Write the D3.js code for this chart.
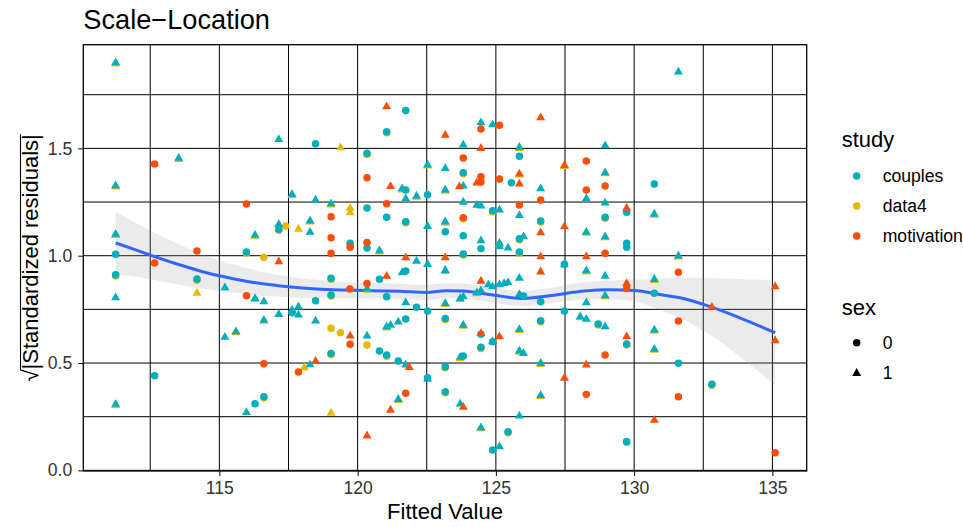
<!DOCTYPE html>
<html>
<head>
<meta charset="utf-8">
<script src="https://cdn.jsdelivr.net/npm/d3@7"></script>
<style>
  body { margin: 0; background: #fff; }
  text { font-family: "Liberation Sans", Arial, Helvetica, sans-serif; }
</style>
</head>
<body>
<svg id="chart" width="963" height="527"></svg>
<script>
// ── Data ──────────────────────────────────────────────────────────

const studies     = ['couples', 'data4', 'motivation'];
const studyColors = ['#00AFBB', '#E7B800', '#FC4E07'];
const sexLevels   = ['0', '1'];

const xTicks = [115, 120, 125, 130, 135];
const yTicks = [0.0, 0.5, 1.0, 1.5];

// [fitted value, sqrt|standardized residual|]
const couplesSex0 = [
  [111.25,1.007],[111.25,0.911],[112.66,0.441],[114.19,0.891],[115.98,1.017],[116.29,0.310],
  [116.61,0.343],[117.63,0.734],[118.48,0.790],[117.15,1.123],[118.48,1.522],[119.04,0.895],
  [119.04,0.817],[119.04,0.545],[120.34,1.477],[120.34,1.222],[120.34,1.036],[119.73,1.058],
  [121.05,1.578],[121.74,1.676],[121.74,1.306],[121.05,1.179],[121.74,1.158],[122.53,1.284],
  [123.17,1.112],[123.82,1.387],[123.82,1.093],[123.82,1.008],[124.88,1.210],[124.46,1.033],
  [125.56,1.340],[125.85,1.463],[126.62,1.162],[125.85,1.079],[125.85,1.017],[128.95,1.179],
  [129.73,1.202],[129.73,1.058],[129.73,1.039],[130.73,1.334],[127.48,0.960],[130.73,0.825],
  [127.48,0.742],[120.79,0.890],[121.74,0.929],[121.05,0.809],[122.13,0.760],[122.53,0.742],
  [123.17,0.708],[126.00,0.812],[126.62,0.786],[121.74,0.705],[120.79,0.556],[121.05,0.537],
  [121.47,0.509],[122.53,0.431],[123.17,0.483],[123.17,0.366],[123.82,0.533],[124.46,0.573],
  [124.88,0.599],[124.46,0.634],[126.62,0.697],[128.70,0.682],[129.73,0.589],[131.60,0.499],
  [132.81,0.401],[129.73,0.135],[125.44,0.180],[124.88,0.095]
];
const couplesSex1 = [
  [111.25,1.899],[111.25,1.326],[111.25,1.100],[111.25,0.804],[111.25,0.308],[113.53,1.454],
  [115.20,0.851],[115.20,0.620],[115.60,0.646],[115.98,0.270],[116.29,0.801],[116.61,0.786],
  [116.61,0.700],[117.15,0.727],[117.63,0.747],[117.86,0.762],[117.86,0.724],[118.48,0.696],
  [118.28,0.492],[117.15,1.542],[117.63,1.286],[118.48,1.260],[117.15,1.146],[118.28,1.162],
  [118.28,1.110],[116.29,1.096],[119.04,1.242],[120.79,1.023],[120.34,0.845],[121.61,0.921],
  [122.13,0.975],[122.53,0.960],[123.17,0.932],[121.61,1.312],[122.13,1.278],[121.74,1.266],
  [122.53,1.423],[123.17,1.407],[123.17,1.306],[122.53,1.137],[123.17,1.158],[123.82,1.516],
  [124.46,1.620],[124.88,1.610],[123.82,1.325],[123.82,1.250],[124.31,1.235],[124.46,1.232],
  [124.46,1.070],[125.85,1.505],[128.95,1.513],[128.95,1.387],[126.62,1.312],[128.27,1.266],
  [128.95,1.246],[130.73,1.194],[125.13,1.213],[125.85,1.188],[128.27,1.110],[128.95,1.089],
  [126.00,1.089],[125.13,1.058],[125.13,1.042],[125.44,1.036],[131.60,0.999],[131.60,1.856],
  [127.48,0.958],[128.27,0.930],[128.95,0.905],[130.73,0.890],[128.95,0.814],[128.27,0.781],
  [128.05,0.716],[128.27,0.704],[128.95,0.669],[130.73,0.654],[130.73,0.565],[124.31,0.828],
  [124.46,0.837],[124.73,0.865],[124.88,0.856],[125.13,0.865],[125.30,0.871],[125.44,0.876],
  [125.85,0.895],[125.85,0.820],[121.74,0.781],[123.17,0.778],[123.71,0.801],[123.82,0.809],
  [123.82,0.677],[121.05,0.669],[121.19,0.676],[121.47,0.692],[120.34,0.626],[121.74,0.491],
  [122.53,0.425],[123.71,0.527],[124.88,0.599],[125.85,0.657],[125.85,0.556],[126.00,0.545],
  [126.62,0.499],[126.62,0.349],[125.85,0.254],[125.13,0.110],[124.46,0.199],[123.71,0.309],
  [121.47,0.331]
];
const data4Sex0 = [
  [116.61,0.993],[117.40,1.138],[119.04,0.662],[119.38,0.641],[120.34,0.584],
  [111.25,0.906],[114.19,0.886],[115.98,1.012],[116.61,0.338],[117.15,1.118],[119.04,0.890],
  [119.04,0.812],[119.04,0.540],[120.34,1.472],[119.73,1.053],[121.05,1.573],[121.74,1.153],
  [123.82,1.382],[123.82,1.003],[124.88,1.205],[126.62,1.157],[125.85,1.074],[125.85,1.012],
  [128.95,1.174],[123.17,0.703],[121.05,0.532],[123.17,0.478],[123.17,0.361],[124.46,0.568],
  [126.62,0.692],[128.70,0.677],[129.73,0.584],[132.81,0.396],[129.73,0.130],[125.44,0.175],
  [123.82,1.172]
];
const data4Sex1 = [
  [114.19,0.825],[117.86,1.124],[119.38,1.503],[119.73,1.221],[119.73,1.200],[118.07,0.478],
  [119.04,0.266],
  [111.25,1.894],[111.25,1.321],[111.25,1.095],[111.25,0.303],[113.53,1.449],[115.60,0.641],
  [116.29,0.796],[116.61,0.695],[117.63,0.742],[117.63,1.281],[118.28,1.157],[116.29,1.091],
  [119.04,1.237],[120.79,1.018],[120.34,0.840],[123.17,0.927],[121.61,1.307],[122.13,1.273],
  [122.53,1.418],[123.17,1.301],[123.17,1.153],[125.85,1.500],[128.95,1.382],[130.73,1.189],
  [128.27,1.105],[128.95,1.084],[125.13,1.053],[131.60,0.994],[128.27,0.925],[130.73,0.885],
  [128.95,0.809],[128.05,0.711],[130.73,0.649],[130.73,0.560],[124.31,0.823],[123.17,0.773],
  [123.71,0.796],[123.82,0.672],[121.05,0.664],[123.71,0.522],[125.85,0.652],[125.85,0.551],
  [126.62,0.494],[126.62,0.344],[124.46,0.194],[121.47,0.326],[127.48,1.416],[125.85,1.376]
];
const motivationSex0 = [
  [112.66,1.427],[112.66,0.966],[114.19,1.022],[115.98,1.241],[115.98,0.814],[116.61,0.497],
  [117.86,0.458],[119.04,1.182],[119.04,1.011],[119.04,1.084],[119.73,1.039],[120.34,1.061],
  [120.34,1.363],[121.05,1.242],[119.72,0.845],[120.34,0.871],[119.73,0.587],[121.74,0.359],
  [123.82,1.455],[124.46,1.590],[125.13,1.608],[124.46,1.368],[124.46,1.343],[123.82,1.177],
  [125.13,1.357],[128.27,1.441],[128.95,1.325],[128.27,1.306],[126.62,1.260],[125.85,1.236],
  [128.95,1.011],[131.60,0.923],[129.73,0.848],[131.60,0.696],[128.95,0.537],[128.27,0.354],
  [131.60,0.343],[135.10,0.082]
];
const motivationSex1 = [
  [117.15,0.972],[118.48,0.509],[121.05,1.694],[123.17,1.562],[124.46,1.500],[121.19,1.323],
  [123.68,1.322],[124.31,1.339],[126.62,1.643],[127.48,1.421],[125.85,1.381],[125.85,1.334],
  [129.73,1.221],[127.48,1.135],[126.62,1.107],[121.74,0.991],[123.17,0.991],[126.62,0.995],
  [128.27,0.995],[126.62,0.925],[121.05,0.905],[124.46,0.882],[129.73,0.871],[132.81,0.760],
  [135.10,0.856],[135.10,0.604],[119.73,0.626],[121.87,0.480],[129.73,0.623],[128.27,0.491],
  [127.48,0.430],[123.82,0.294],[121.19,0.281],[120.34,0.161],[130.73,0.234],[124.46,0.638],
  [125.13,0.623]
];

// loess smooth: fit and half-width of the confidence band
const smoothX   = [111.25,111.8,112.5,113.5,114.5,115.5,116.5,117.5,118.5,119.5,120.5,121.5,122.5,
                   123.2,123.8,124.9,125.9,127.0,128.2,129.1,130.0,131.0,131.7,132.7,133.8,135.1];
const smoothFit = [1.059,1.035,1.003,0.960,0.922,0.893,0.870,0.855,0.845,0.840,0.837,0.834,0.829,
                   0.837,0.835,0.817,0.801,0.815,0.836,0.841,0.838,0.818,0.803,0.765,0.712,0.641];
const smoothSe  = [0.146,0.130,0.113,0.094,0.078,0.066,0.056,0.048,0.043,0.038,0.036,0.035,0.035,
                   0.035,0.035,0.035,0.035,0.036,0.040,0.044,0.050,0.075,0.095,0.130,0.180,0.245];

// ── Layout ────────────────────────────────────────────────────────

const panel = { left: 83.3, top: 44.7, right: 806.7, bottom: 471 };

const x = d3.scaleLinear().domain([110.08, 136.24]).range([panel.left, panel.right]);
const y = d3.scaleLinear().domain([-0.003, 1.983]).range([panel.bottom, panel.top]);

const colorOf = d3.scaleOrdinal().domain(studies).range(studyColors);
const circle   = d3.symbol().type(d3.symbolCircle).size(44)();
const triangle = d3.symbol().type(d3.symbolTriangle).size(35)();
const shapeOf  = d3.scaleOrdinal().domain(sexLevels).range([circle, triangle]);

const svg = d3.select('#chart');

// ── Grid ──────────────────────────────────────────────────────────

const grid = svg.append('g');
const xMinor = d3.range(112.5, 136, 5);
const yMinor = d3.range(0.25, 1.9, 0.5);

grid.selectAll('.vx').data(xTicks.concat(xMinor)).join('line')
  .attr('x1', d => x(d)).attr('x2', d => x(d))
  .attr('y1', panel.top).attr('y2', panel.bottom)
  .attr('stroke', '#000').attr('stroke-width', 1);

grid.selectAll('.hy').data(yTicks.concat(yMinor)).join('line')
  .attr('y1', d => y(d)).attr('y2', d => y(d))
  .attr('x1', panel.left).attr('x2', panel.right)
  .attr('stroke', '#000').attr('stroke-width', 1);

// ── Smooth ────────────────────────────────────────────────────────

const smooth = smoothX.map((v, i) => ({ x: v, fit: smoothFit[i], se: smoothSe[i] }));

svg.append('path')
  .datum(smooth)
  .attr('fill', '#999999').attr('fill-opacity', 0.2)
  .attr('d', d3.area().curve(d3.curveMonotoneX)
    .x(d => x(d.x)).y0(d => y(d.fit - d.se)).y1(d => y(d.fit + d.se)));

svg.append('path')
  .datum(smooth)
  .attr('fill', 'none').attr('stroke', '#3366FF').attr('stroke-width', 3)
  .attr('d', d3.line().curve(d3.curveMonotoneX).x(d => x(d.x)).y(d => y(d.fit)));

// ── Points ────────────────────────────────────────────────────────

const groups = [
  ['data4', '0', data4Sex0], ['data4', '1', data4Sex1],
  ['couples', '0', couplesSex0], ['couples', '1', couplesSex1],
  ['motivation', '0', motivationSex0], ['motivation', '1', motivationSex1],
];

const pts = svg.append('g');
groups.forEach(([study, sex, rows]) => {
  pts.append('g').selectAll('path').data(rows).join('path')
    .attr('d', shapeOf(sex))
    .attr('transform', d => `translate(${x(d[0])},${y(d[1])})`)
    .attr('fill', colorOf(study));
});

// ── Panel border + axes ───────────────────────────────────────────

svg.append('rect')
  .attr('x', panel.left).attr('y', panel.top)
  .attr('width', panel.right - panel.left).attr('height', panel.bottom - panel.top)
  .attr('fill', 'none').attr('stroke', '#000').attr('stroke-width', 1.3);

const xAxis = svg.append('g')
  .attr('transform', `translate(0,${panel.bottom})`)
  .call(d3.axisBottom(x).tickValues(xTicks).tickSize(5).tickPadding(6).tickFormat(d3.format('d')));
const yAxis = svg.append('g')
  .attr('transform', `translate(${panel.left},0)`)
  .call(d3.axisLeft(y).tickValues(yTicks).tickSize(5).tickPadding(6).tickFormat(d3.format('.1f')));

[xAxis, yAxis].forEach(a => {
  a.select('.domain').remove();
  a.selectAll('.tick line').attr('stroke', '#000').attr('stroke-width', 1);
  a.selectAll('.tick text')
    .attr('fill', '#333').attr('font-size', 17.6)
    .attr('font-family', '"Liberation Sans", Arial, sans-serif');
});

// ── Titles ────────────────────────────────────────────────────────

svg.append('text')
  .attr('x', panel.left).attr('y', 28.5)
  .attr('font-size', 27.2).attr('fill', '#000')
  .text('Scale\u2212Location');

svg.append('text')
  .attr('x', (panel.left + panel.right) / 2).attr('y', 519)
  .attr('text-anchor', 'middle').attr('font-size', 22).attr('fill', '#000')
  .text('Fitted Value');

const yTitle = svg.append('g')
  .attr('transform', `translate(38,${(panel.top + panel.bottom) / 2}) rotate(-90)`);
const yText = yTitle.append('text')
  .attr('text-anchor', 'middle').attr('font-size', 22).attr('fill', '#000');
yText.append('tspan').text('\u221A');
yText.append('tspan').text('|Standardized residuals|');

const totalLen = yText.node().getComputedTextLength();
const rootLen  = yText.node().getSubStringLength(0, 1);
yTitle.append('line')
  .attr('x1', -totalLen / 2 + rootLen - 1).attr('x2', totalLen / 2)
  .attr('y1', -17.5).attr('y2', -17.5)
  .attr('stroke', '#000').attr('stroke-width', 1.1);

// ── Legends ───────────────────────────────────────────────────────

const legend = svg.append('g');

legend.append('text')
  .attr('x', 841.7).attr('y', 147.3).attr('font-size', 22).text('study');

const studyKey = legend.selectAll('.study-key').data(studies).join('g')
  .attr('transform', (d, i) => `translate(856.7,${176 + i * 30})`);
studyKey.append('path').attr('d', circle).attr('fill', d => colorOf(d));
studyKey.append('text')
  .attr('x', 26).attr('dy', '0.35em').attr('font-size', 17.6).text(d => d);

legend.append('text')
  .attr('x', 841.7).attr('y', 315).attr('font-size', 22).text('sex');

const sexKey = legend.selectAll('.sex-key').data(sexLevels).join('g')
  .attr('transform', (d, i) => `translate(856.7,${342.7 + i * 30.6})`);
sexKey.append('path').attr('d', d => shapeOf(d)).attr('fill', '#000');
sexKey.append('text')
  .attr('x', 26).attr('dy', '0.35em').attr('font-size', 17.6).text(d => d);
</script>
</body>
</html>
